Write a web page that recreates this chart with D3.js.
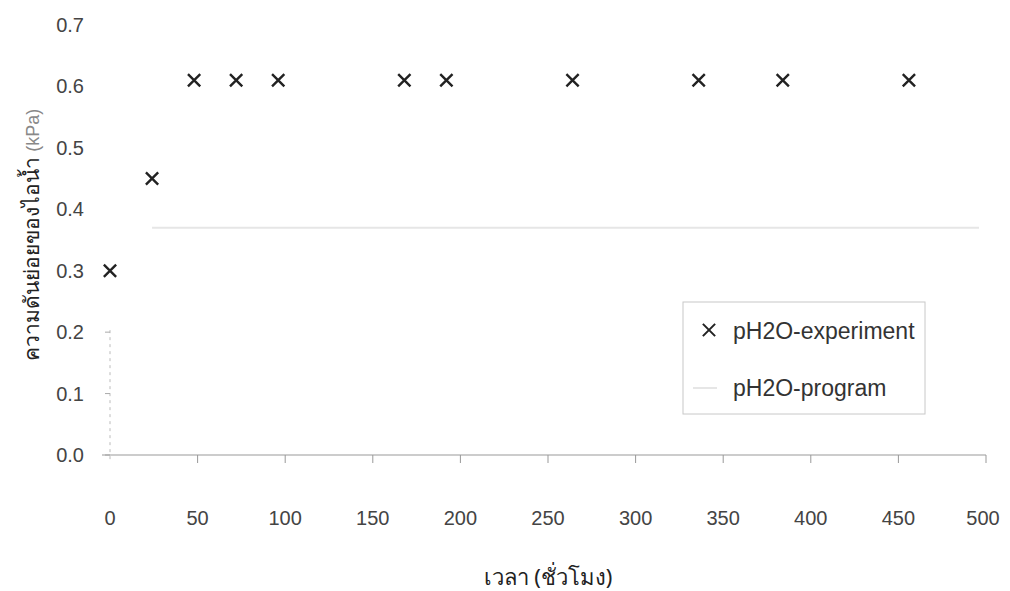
<!DOCTYPE html>
<html>
<head>
<meta charset="utf-8">
<script src="https://cdn.jsdelivr.net/npm/d3@7"></script>
<style>
  body { margin: 0; background: #fff; }
  svg { display: block; }
  .tick-label { font-family: "Liberation Sans", Arial, sans-serif; font-size: 20px; fill: #444; }
  .legend-label { font-family: "Liberation Sans", Arial, sans-serif; font-size: 23px; fill: #333; }
  .title { font-family: "Noto Sans", "DejaVu Sans", sans-serif; fill: #222; }
</style>
</head>
<body>
<div id="chart"></div>
<script>
// ข้อมูลอ่านจากกราฟ
const expHours  = [0, 24, 48, 72, 96, 168, 192, 264, 336, 384, 456];
const expValues = [0.30, 0.45, 0.61, 0.61, 0.61, 0.61, 0.61, 0.61, 0.61, 0.61, 0.61];
const progHours  = [24, 496];
const progValues = [0.37, 0.37];
const xTicks = [0, 50, 100, 150, 200, 250, 300, 350, 400, 450, 500];
const yTicks = [0, 0.1, 0.2, 0.3, 0.4, 0.5, 0.6, 0.7];
const seriesNames = ['pH2O-experiment', 'pH2O-program'];

const W = 1010, H = 591;
const x = d3.scaleLinear().domain([0, 500]).range([110, 986]);
const y = d3.scaleLinear().domain([0, 0.7]).range([455, 25]);

const svg = d3.select('#chart').append('svg').attr('width', W).attr('height', H);

// เส้นโปรแกรม (จางมากในต้นฉบับ)
const progData = progHours.map((h, i) => [h, progValues[i]]);
svg.append('path')
  .datum(progData)
  .attr('fill', 'none')
  .attr('stroke', '#e6e6e6')
  .attr('stroke-width', 2)
  .attr('d', d3.line().x(d => x(d[0])).y(d => y(d[1])));

// แกน y (เส้นประจาง)
svg.append('line')
  .attr('x1', x(0)).attr('x2', x(0))
  .attr('y1', y(0.2) - 2).attr('y2', y(0) + 8)
  .attr('stroke', '#bbb').attr('stroke-dasharray', '3,4');
svg.selectAll('.ytick').data(yTicks.slice(0, 3)).enter()
  .append('line')
  .attr('x1', x(0) - 5).attr('x2', x(0))
  .attr('y1', d => y(d)).attr('y2', d => y(d))
  .attr('stroke', '#aaa');

// แกน x
svg.append('line')
  .attr('x1', x(0) - 8).attr('x2', x(500))
  .attr('y1', y(0)).attr('y2', y(0))
  .attr('stroke', '#999').attr('stroke-width', 1.2);
svg.selectAll('.xtick').data(xTicks.slice(1)).enter()
  .append('line')
  .attr('x1', d => x(d)).attr('x2', d => x(d))
  .attr('y1', y(0)).attr('y2', y(0) + 8)
  .attr('stroke', '#999');

svg.selectAll('.xlab').data(xTicks).enter()
  .append('text')
  .attr('class', 'tick-label')
  .attr('x', d => x(d) - (d === 500 ? 3 : 0))
  .attr('y', 525)
  .attr('text-anchor', 'middle')
  .text(d => d);

svg.selectAll('.ylab').data(yTicks).enter()
  .append('text')
  .attr('class', 'tick-label')
  .attr('x', 84)
  .attr('y', d => y(d) + 7)
  .attr('text-anchor', 'end')
  .text(d => d.toFixed(1));

// ชื่อแกน
svg.append('text')
  .attr('class', 'title')
  .attr('x', 548).attr('y', 585)
  .attr('text-anchor', 'middle')
  .attr('font-size', 22)
  .text('เวลา (ชั่วโมง)');

const yt = svg.append('text')
  .attr('class', 'title')
  .attr('transform', 'translate(39,235) rotate(-90)')
  .attr('text-anchor', 'middle')
  .attr('font-size', 21);
yt.append('tspan').text('ความดันย่อยของไอน้ำ ');
yt.append('tspan').attr('fill', '#888').attr('font-family', '"Liberation Sans", Arial, sans-serif').attr('font-size', 18).text('(kPa)');

// เครื่องหมาย x ของข้อมูลทดลอง
const cross = d3.symbol().type(d3.symbolTimes).size(100);
svg.selectAll('.pt').data(expHours.map((h, i) => [h, expValues[i]])).enter()
  .append('path')
  .attr('d', cross)
  .attr('transform', d => `translate(${x(d[0])},${y(d[1])})`)
  .attr('fill', 'none')
  .attr('stroke', '#222')
  .attr('stroke-width', 2.4);

// คำอธิบาย
const lg = svg.append('g').attr('transform', 'translate(683,302)');
lg.append('rect')
  .attr('width', 242).attr('height', 112)
  .attr('fill', 'none').attr('stroke', '#c8c8c8');
lg.append('path')
  .attr('d', cross)
  .attr('transform', 'translate(26,28)')
  .attr('fill', 'none')
  .attr('stroke', '#222')
  .attr('stroke-width', 2);
lg.append('line')
  .attr('x1', 10).attr('x2', 34).attr('y1', 86).attr('y2', 86)
  .attr('stroke', '#e6e6e6').attr('stroke-width', 2);
lg.selectAll('.lt').data(seriesNames).enter()
  .append('text')
  .attr('class', 'legend-label')
  .attr('x', 50)
  .attr('y', (d, i) => 37 + i * 57)
  .text(d => d);
</script>
</body>
</html>
